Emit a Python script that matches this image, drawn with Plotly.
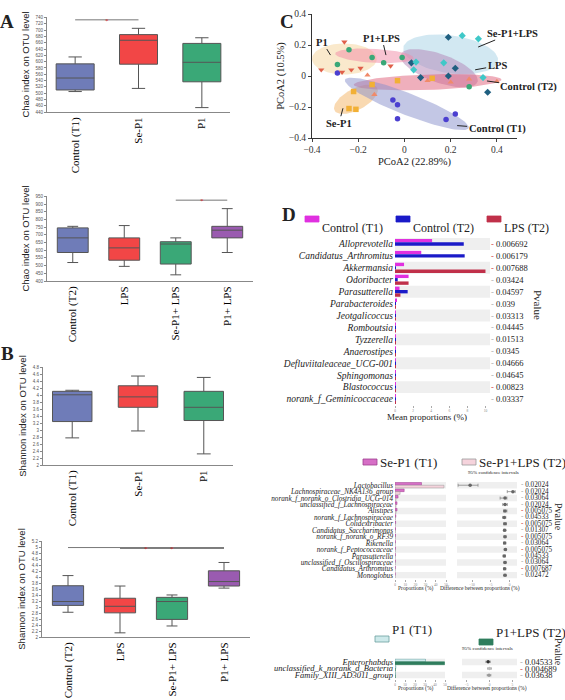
import numpy as np
import plotly.graph_objects as go

W, H = 565, 700


def xd(a, b):
    return [a / W, b / W]


def yd(top, bottom):
    return [1 - bottom / H, 1 - top / H]


# ---------------- A: Chao index ----------------
t1_groups = ["Control (T1)", "Se-P1", "P1"]
t2_groups = ["Control (T2)", "LPS", "Se-P1+ LPS", "P1+ LPS"]
t1_colors = ["#6f7cb8", "#f24646", "#3aa877"]
t2_colors = ["#6f7cb8", "#f24646", "#3aa877", "#9a5bb0"]

chao1_lo = [505, 515, 454]
chao1_q1 = [510, 592, 536]
chao1_med = [548, 668, 598]
chao1_q3 = [593, 686, 658]
chao1_hi = [615, 706, 676]

chao2_lo = [520, 495, 440, 585]
chao2_q1 = [585, 535, 510, 680]
chao2_med = [680, 615, 640, 730]
chao2_q3 = [745, 680, 655, 755]
chao2_hi = [755, 760, 680, 870]

# ---------------- B: Shannon index ----------------
sh1_lo = [2.78, 2.98, 2.32]
sh1_q1 = [3.25, 3.66, 3.28]
sh1_med = [4.02, 3.96, 3.66]
sh1_q3 = [4.12, 4.28, 4.12]
sh1_hi = [4.15, 4.56, 4.52]

sh2_lo = [2.83, 2.14, 2.37, 3.64]
sh2_q1 = [3.06, 2.81, 2.59, 3.71]
sh2_med = [3.19, 3.03, 3.19, 3.86]
sh2_q3 = [3.72, 3.30, 3.33, 4.22]
sh2_hi = [4.06, 3.71, 3.41, 4.50]

# significance brackets (from, to, level)
sig_chao1 = [("Control (T1)", "Se-P1", 733)]
sig_chao2 = [("Se-P1+ LPS", "P1+ LPS", 925)]
sig_sh2 = [("Control (T2)", "P1+ LPS", 5.0), ("LPS", "P1+ LPS", 4.97)]

# ---------------- C: PCoA ----------------
pc_groups = ["Control (T1)", "Se-P1", "P1", "P1+LPS", "LPS", "Se-P1+LPS", "Control (T2)"]
pc_symbols = ["circle", "square", "triangle-down", "circle", "diamond", "diamond", "triangle-up"]
pc_colors = ["#4b3fd0", "#f2b035", "#e0604a", "#3aa878", "#1f5f80", "#3fc8c8", "#f08a6a"]
pc_x = [
    [-0.29, -0.05, -0.03, -0.03, 0.18, 0.22],
    [-0.21, -0.24, -0.14, -0.03, 0.12, -0.22],
    [-0.36, -0.26, -0.27, -0.23, -0.19, -0.06],
    [-0.24, -0.29, -0.14, -0.09, -0.01, 0.28],
    [0.03, 0.07, 0.19, 0.19, 0.22, 0.36],
    [0.25, 0.32, 0.04, 0.05, 0.17, 0.34],
    [-0.16, 0.40, -0.13, 0.20, 0.28, 0.10],
]
pc_y = [
    [0.02, -0.155, -0.185, -0.275, -0.28, -0.245],
    [-0.215, -0.21, -0.055, -0.03, -0.015, -0.10],
    [0.04, 0.22, 0.025, 0.04, 0.05, 0.065],
    [0.17, 0.075, 0.12, 0.085, 0.12, -0.07],
    [0.085, -0.01, 0.25, 0.0, 0.05, -0.105],
    [0.26, 0.24, 0.04, 0.09, 0.085, -0.01],
    [0.005, -0.035, -0.12, -0.04, -0.02, -0.03],
]
# confidence ellipses (drawing order)
ell_groups = ["P1", "Se-P1", "Se-P1+LPS", "LPS", "Control (T2)", "Control (T1)", "P1+LPS"]
ell_cx = [-0.26, -0.21, 0.20, 0.15, 0.10, 0.01, -0.13]
ell_cy = [0.11, -0.15, 0.14, 0.05, -0.04, -0.18, 0.13]
ell_a = [0.14, 0.12, 0.21, 0.19, 0.32, 0.31, 0.17]
ell_b = [0.10, 0.06, 0.12, 0.085, 0.05, 0.065, 0.045]
ell_ang = [0, 45, -15, -32, 3, -31, -5]
ell_colors = ["#f6d39a", "#f4b464", "#a6d2e6", "#b184b6", "#e0607a", "#8890cc", "#f28aa6"]

pc_labels = ["P1", "P1+LPS", "Se-P1+LPS", "LPS", "Control (T2)", "Se-P1", "Control (T1)"]
pc_lab_x = [-0.32, -0.08, 0.319, 0.306, 0.357, -0.266, 0.228]
pc_lab_y = [0.135, 0.135, 0.187, 0.04, -0.032, -0.208, -0.32]
pc_lab_ax = [-8, -4, 34, 22, 42, -4, 40]
pc_lab_ay = [-13, -17, -14, -4, 6, 15, 3]

# ---------------- D: differential abundance ----------------
top_series = ["Control (T1)", "Control (T2)", "LPS (T2)"]
top_colors = ["#e030e0", "#1a1ac8", "#c0304a"]
top_genera = ["Alloprevotella", "Candidatus_Arthromitus", "Akkermansia", "Odoribacter",
              "Parasutterella", "Parabacteroides", "Jeotgalicoccus", "Romboutsia",
              "Tyzzerella", "Anaerostipes", "Defluviitaleaceae_UCG-001", "Sphingomonas",
              "Blastococcus", "norank_f_Geminicoccaceae"]
top_ctrl_t1 = [4.1, 2.9, 1.0, 1.5, 0.5, 0.15, 0.05, 0.05, 0.03, 0.03, 0.02, 0.02, 0.02, 0.02]
top_ctrl_t2 = [7.6, 7.7, 0.1, 0.3, 1.4, 0.1, 0.05, 0.04, 0.03, 0.02, 0.02, 0.02, 0.02, 0.02]
top_lps_t2 = [0.0, 0.0, 10.0, 1.5, 0.6, 0.1, 0.04, 0.04, 0.03, 0.02, 0.02, 0.02, 0.02, 0.02]
top_p = ["0.006692", "0.006179", "0.007688", "0.03424", "0.04597", "0.039", "0.03313",
         "0.04445", "0.01513", "0.0345", "0.04666", "0.04645", "0.00823", "0.03337"]

mid_series = ["Se-P1 (T1)", "Se-P1+LPS (T2)"]
mid_colors = ["#d66fc6", "#f5d3dc"]
mid_edges = ["#a04090", "#999999"]
mid_genera = ["Lactobacillus", "Lachnospiraceae_NK4A136_group",
              "norank_f_norank_o_Clostridia_UCG-014", "unclassified_f_Lachnospiraceae",
              "Alistipes", "norank_f_Lachnospiraceae", "Colidextribacter",
              "Candidatus_Saccharimonas", "norank_f_norank_o_RF39", "Rikenella",
              "norank_f_Peptococcaceae", "Parasutterella", "unclassified_f_Oscillospiraceae",
              "Candidatus_Arthromitus", "Monoglobus"]
mid_sep1_t1 = [26, 9, 3, 2, 2, 0.8, 0.6, 0.5, 0.5, 0.4, 0.4, 0.3, 0.3, 0.3, 0.2]
mid_sep1lps_t2 = [48, 5, 1, 1, 1, 0.4, 0.3, 0.3, 0.3, 0.2, 0.2, 0.2, 0.2, 0.1, 0.1]
mid_diff = [-10.5, 0.9, -1.2, -1.2, -1.2, -1.4, -1.2, -1.3, -1.2, -1.3, -1.1, -1.4, -1.2, -1.3, -1.2]
mid_lo = [-13.7, -0.6, -2.5, -1.8, -1.6, -1.8, -1.6, -1.6, -1.5, -1.6, -1.4, -1.7, -1.5, -1.6, -1.5]
mid_hi = [-8.4, 1.5, -0.7, -0.6, -0.7, -1.0, -0.8, -1.0, -0.9, -1.0, -0.8, -1.1, -0.9, -1.0, -0.9]
mid_p = ["0.02024", "0.02024", "0.03064", "0.02024", "0.005075", "0.04533", "0.005075",
         "0.01307", "0.005075", "0.03064", "0.005075", "0.04533", "0.03064", "0.007687", "0.02472"]

bot_series = ["P1 (T1)", "P1+LPS (T2)"]
bot_colors = ["#cde9ea", "#2f7d5d"]
bot_edges = ["#6a9fa0", "#2f7d5d"]
bot_genera = ["Enterorhabdus", "unclassified_k_norank_d_Bacteria", "Family_XIII_AD3011_group"]
bot_p1_t1 = [30.5, 0.8, 0.5]
bot_p1lps_t2 = [49.5, 0.3, 0.2]
bot_diff = [-0.3, 0.0, -0.1]
bot_lo = [-0.8, -0.4, -0.5]
bot_hi = [0.2, 0.4, 0.3]
bot_p = ["0.04533", "0.004689", "0.03638"]

fig = go.Figure()
annotations = []
shapes = []

SANS = "Liberation Sans"
SERIF = "Liberation Serif"


def box_panel(n, groups, lo, q1, med, q3, hi, colors):
    for i, g in enumerate(groups):
        fig.add_trace(go.Box(
            x=[g], q1=[q1[i]], median=[med[i]], q3=[q3[i]],
            lowerfence=[lo[i]], upperfence=[hi[i]],
            fillcolor=colors[i], line=dict(color="#555", width=1),
            width=0.6, whiskerwidth=0.35, boxpoints=False,
            xaxis="x" + n, yaxis="y" + n, showlegend=False))


def sig_lines(n, groups, sigs):
    for a, b, lvl in sigs:
        fig.add_trace(go.Scatter(x=[a, b], y=[lvl, lvl], mode="lines",
                                 line=dict(color="#777", width=1),
                                 xaxis="x" + n, yaxis="y" + n, showlegend=False))
        mid = (groups.index(a) + groups.index(b)) / 2
        annotations.append(dict(x=mid, y=lvl, xref="x" + n, yref="y" + n, text="*",
                                showarrow=False, font=dict(color="#d02020", size=7),
                                yshift=-1))


box_panel("", t1_groups, chao1_lo, chao1_q1, chao1_med, chao1_q3, chao1_hi, t1_colors)
sig_lines("", t1_groups, sig_chao1)
box_panel("2", t2_groups, chao2_lo, chao2_q1, chao2_med, chao2_q3, chao2_hi, t2_colors)
sig_lines("2", t2_groups, sig_chao2)
box_panel("3", t1_groups, sh1_lo, sh1_q1, sh1_med, sh1_q3, sh1_hi, t1_colors)
box_panel("4", t2_groups, sh2_lo, sh2_q1, sh2_med, sh2_q3, sh2_hi, t2_colors)
sig_lines("4", t2_groups, sig_sh2)


def box_axes(n, xdom, ydom, rng, dtick, title):
    fig.update_layout(**{
        "xaxis" + n: dict(domain=xdom, anchor="y" + n, showline=True, linecolor="#888",
                          ticks="", tickangle=-90, showgrid=False, automargin=False,
                          tickfont=dict(family=SERIF, size=11, color="black")),
        "yaxis" + n: dict(domain=ydom, anchor="x" + n, range=rng, dtick=dtick,
                          showline=True, linecolor="#888", ticks="outside", ticklen=2,
                          tickcolor="#888", showgrid=False, zeroline=False,
                          automargin=False,
                          tickfont=dict(family=SANS, size=4.5, color="#555"),
                          title=dict(text=title, standoff=4,
                                     font=dict(family=SANS, size=9.5, color="#222"))),
    })


box_axes("", xd(47, 230), yd(17, 112), [440, 742], 20, "Chao index on OTU level")
box_axes("2", xd(47, 253), yd(196, 281), [400, 952], 50, "Chao index on OTU level")
box_axes("3", xd(43, 233), yd(367, 465), [2, 4.82], 0.2, "Shannon index on OTU level")
box_axes("4", xd(42, 250), yd(541, 637), [2, 5.22], 0.2, "Shannon index on OTU level")

# ---- C ----
t = np.linspace(0, 2 * np.pi, 90)
for i, g in enumerate(ell_groups):
    th = np.radians(ell_ang[i])
    ex = ell_cx[i] + ell_a[i] * np.cos(t) * np.cos(th) - ell_b[i] * np.sin(t) * np.sin(th)
    ey = ell_cy[i] + ell_a[i] * np.cos(t) * np.sin(th) + ell_b[i] * np.sin(t) * np.cos(th)
    fig.add_trace(go.Scatter(x=ex, y=ey, mode="lines", fill="toself",
                             fillcolor=ell_colors[i], line=dict(width=0),
                             opacity=0.5, xaxis="x5", yaxis="y5", showlegend=False))
for i, g in enumerate(pc_groups):
    fig.add_trace(go.Scatter(x=pc_x[i], y=pc_y[i], mode="markers",
                             marker=dict(symbol=pc_symbols[i], color=pc_colors[i], size=5.5),
                             xaxis="x5", yaxis="y5", showlegend=False))
for i, lab in enumerate(pc_labels):
    annotations.append(dict(x=pc_lab_x[i], y=pc_lab_y[i], xref="x5", yref="y5",
                            text="<b>" + lab + "</b>", showarrow=True, arrowhead=0,
                            arrowwidth=1, arrowcolor="#222", ax=pc_lab_ax[i],
                            ay=pc_lab_ay[i], font=dict(family=SERIF, size=10.5, color="#222")))

fig.update_layout(
    xaxis5=dict(domain=xd(312, 517), anchor="y5", range=[-0.4, 0.487], dtick=0.2,
                showline=True, linecolor="#333", ticks="outside", ticklen=3,
                showgrid=False, zeroline=False, automargin=False,
                tickfont=dict(family=SERIF, size=9.5, color="#333"),
                title=dict(text="PCoA2 (22.89%)", standoff=3,
                           font=dict(family=SERIF, size=10.5, color="#222"))),
    yaxis5=dict(domain=yd(14, 138), anchor="x5", range=[-0.4, 0.4], dtick=0.2,
                showline=True, linecolor="#333", ticks="outside", ticklen=3,
                showgrid=False, zeroline=False, automargin=False,
                tickfont=dict(family=SERIF, size=9.5, color="#333"),
                title=dict(text="PCoA2 (10.5%)", standoff=2,
                           font=dict(family=SERIF, size=10.5, color="#222"))),
)

# ---- D top ----
for name, vals, col in zip(top_series, [top_ctrl_t1, top_ctrl_t2, top_lps_t2], top_colors):
    fig.add_trace(go.Bar(x=vals, y=top_genera, orientation="h", name=name,
                         marker=dict(color=col, line=dict(width=0)),
                         xaxis="x6", yaxis="y6", showlegend=False))

# ---- D middle ----
for name, vals, col, edge in zip(mid_series, [mid_sep1_t1, mid_sep1lps_t2], mid_colors, mid_edges):
    fig.add_trace(go.Bar(x=vals, y=mid_genera, orientation="h", name=name,
                         marker=dict(color=col, line=dict(color=edge, width=0.5)),
                         xaxis="x7", yaxis="y7", showlegend=False))
fig.add_trace(go.Scatter(
    x=mid_diff, y=mid_genera, mode="markers",
    marker=dict(size=3.5, color="#666"),
    error_x=dict(type="data", symmetric=False,
                 array=[h - d for h, d in zip(mid_hi, mid_diff)],
                 arrayminus=[d - l for d, l in zip(mid_diff, mid_lo)],
                 color="#888", thickness=0.8, width=1.5),
    xaxis="x8", yaxis="y8", showlegend=False))

# ---- D bottom ----
for name, vals, col, edge in zip(bot_series, [bot_p1_t1, bot_p1lps_t2], bot_colors, bot_edges):
    fig.add_trace(go.Bar(x=vals, y=bot_genera, orientation="h", name=name,
                         marker=dict(color=col, line=dict(color=edge, width=0.6)),
                         xaxis="x9", yaxis="y9", showlegend=False))
fig.add_trace(go.Scatter(
    x=bot_diff, y=bot_genera, mode="markers",
    marker=dict(size=3.5, color=["#333", "#bbb", "#999"]),
    error_x=dict(type="data", symmetric=False,
                 array=[h - d for h, d in zip(bot_hi, bot_diff)],
                 arrayminus=[d - l for d, l in zip(bot_diff, bot_lo)],
                 color="#999", thickness=0.8, width=1.2),
    xaxis="x10", yaxis="y10", showlegend=False))


def d_axes(n, xdom, ydom, rng, cats, label_size, show_labels=True):
    fig.update_layout(**{
        "xaxis" + n: dict(domain=xdom, anchor="y" + n, range=rng, showline=False,
                          showgrid=False, zeroline=False, ticks="outside", ticklen=2,
                          tickcolor="#aaa", automargin=False, nticks=6,
                          tickfont=dict(family=SERIF, size=3.5, color="#888")),
        "yaxis" + n: dict(domain=ydom, anchor="x" + n, categoryarray=cats,
                          categoryorder="array", range=[len(cats) - 0.5, -0.5],
                          tickmode="array", tickvals=cats, ticktext=cats,
                          showline=False, ticks="", showgrid=False, automargin=False,
                          showticklabels=show_labels, ticklabelstandoff=1,
                          tickfont=dict(family=SERIF, size=label_size, color="#222",
                                        style="italic")),
    })
    for i in range(0, len(cats), 2):
        shapes.append(dict(type="rect", xref="x" + n + " domain", yref="y" + n,
                           x0=0, x1=1, y0=i - 0.5, y1=i + 0.5, layer="below",
                           fillcolor="#efefef", line=dict(width=0)))


d_axes("6", xd(395, 490), yd(238, 405), [0, 10.5], top_genera, 9.5)
d_axes("7", xd(395, 446), yd(482, 578.5), [0, 50], mid_genera, 7.2)
d_axes("8", xd(457, 517), yd(482, 578.5), [-14, 2], mid_genera, 7, show_labels=False)
d_axes("9", xd(395, 445), yd(658.5, 678.5), [0, 50], bot_genera, 8.5)
d_axes("10", xd(462, 517), yd(658.5, 678.5), [-6, 6], bot_genera, 7, show_labels=False)


def p_texts(n, cats, pvals, xpx, size):
    for c, p in zip(cats, pvals):
        col = "#d04040" if float(p) < 0.01 else "#aaa"
        annotations.append(dict(x=xpx / W, y=c, xref="paper", yref="y" + n,
                                xanchor="left", showarrow=False,
                                text="<span style='color:%s'>-</span> %s" % (col, p),
                                font=dict(family=SERIF, size=size, color="#222")))


p_texts("6", top_genera, top_p, 489, 8.5)
p_texts("7", mid_genera, mid_p, 519, 7.2)
p_texts("10", bot_genera, bot_p, 518, 8.5)


def note(xpx, ypx, text, size, family=SERIF, angle=0, color="#222", bold=False, anchor="center"):
    annotations.append(dict(x=xpx / W, y=1 - ypx / H, xref="paper", yref="paper",
                            text="<b>%s</b>" % text if bold else text, showarrow=False,
                            xanchor=anchor, textangle=angle,
                            font=dict(family=family, size=size, color=color)))


def legend_row(names, colors, edges, sym_x, sym_y, size):
    # hand-drawn legend: small wide swatch followed by the series name
    for name, col, edge, sx, sy in zip(names, colors, edges, sym_x, sym_y):
        shapes.append(dict(type="rect", xref="paper", yref="paper",
                           x0=sx / W, x1=(sx + 14) / W, y0=1 - (sy + 3) / H, y1=1 - (sy - 3) / H,
                           fillcolor=col, line=dict(color=edge, width=0.8)))
        note(sx + 15, sy, name, size, anchor="left")


legend_row(top_series, top_colors, top_colors, [305, 396, 487], [219, 219, 219], 12)
legend_row(mid_series, mid_colors, mid_edges, [363, 462], [462, 462], 13)
legend_row(bot_series, bot_colors, bot_edges, [375, 479], [639, 642], 13)

note(7, 9, "A", 19, bold=True)
note(7, 354, "B", 19, bold=True)
note(287, 9, "C", 19, bold=True)
note(289, 202, "D", 19, bold=True)
note(427, 417, "Mean proportions (%)", 9)
note(538, 305, "Pvalue", 11, angle=90)
note(493, 477, "95% confidence intervals", 5)
note(415, 594, "Proportions (%)", 5.5)
note(480, 594, "Difference between proportions (%)", 5.5)
note(559, 533, "Pvalue", 10, angle=90)
note(487, 653, "95% confidence intervals", 5)
note(415, 694, "Proportions (%)", 5.5)
note(487, 694, "Difference between proportions (%)", 5.5)
note(559, 668, "Pvalue", 10, angle=90)

fig.update_layout(
    width=W, height=H, margin=dict(l=0, r=0, t=0, b=0, autoexpand=False),
    paper_bgcolor="white", plot_bgcolor="white",
    font=dict(family=SERIF, color="#222"),
    boxmode="overlay", barmode="group", bargap=0.15, bargroupgap=0,
    showlegend=False,
    annotations=annotations, shapes=shapes,
)

# the page's default 8px body margin would push the figure off its 565x700 frame
fig.write_html("out.html", config={"displayModeBar": False},
               post_script="document.body.style.margin='0px';")
